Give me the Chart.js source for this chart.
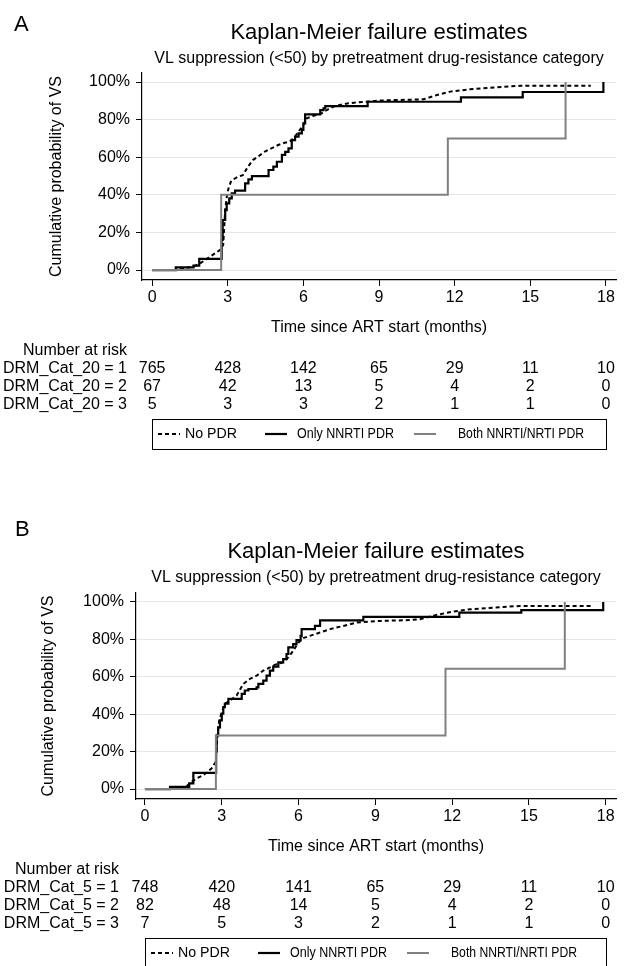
<!DOCTYPE html>
<html>
<head>
<meta charset="utf-8">
<script src="https://cdn.jsdelivr.net/npm/chart.js@4.4.1/dist/chart.umd.min.js"></script>
<style>
  body { margin: 0; background: #fff; }
  canvas { display: block; }
</style>
</head>
<body>
<canvas id="panelA" width="629" height="519"></canvas>
<canvas id="panelB" width="629" height="447"></canvas>
<script>
const FONT = '"Liberation Sans", Arial, sans-serif';

const X_TICKS = [0, 3, 6, 9, 12, 15, 18];
const Y_TICKS = [0, 20, 40, 60, 80, 100];
const SERIES_NAMES = ['No PDR', 'Only NNRTI PDR', 'Both NNRTI/NRTI PDR'];

// panel A, [months, cumulative %]
const A_NO_PDR = [[0, 0], [0.9, 0], [1.0, 0.5], [1.64, 1.8], [1.9, 3.5], [2.3, 7.1], [2.69, 10.6], [2.82, 13.3],
  [2.9, 31.9], [2.98, 40.8], [3.05, 44.3], [3.14, 47.5], [3.4, 49.6], [3.6, 50.5], [3.8, 54.9], [4.0, 58.5],
  [4.2, 60.3], [4.46, 62.9], [4.73, 64.7], [5.0, 66.5], [5.26, 67.7], [5.46, 68.3], [5.66, 70.9], [5.86, 74.5],
  [6.0, 77.1], [6.13, 80.7], [6.4, 82], [6.72, 83.3], [6.98, 85.5], [7.25, 87.2], [7.78, 88.7], [8.44, 89.5],
  [9.1, 90.2], [10.77, 90.8], [11.3, 93.1], [11.83, 94.9], [12.6, 96.1], [13.94, 97.5], [14.6, 98], [17.4, 98]];
const A_NNRTI = [[0, 0], [0.94, 1.4], [1.64, 2.3], [1.87, 5.9], [2.76, 16], [2.8, 26.6], [2.9, 31.9], [2.96, 35.5],
  [3.06, 38.1], [3.16, 40.8], [3.29, 42.2], [3.69, 46.1], [3.82, 48.2], [3.96, 50], [4.62, 53.2], [4.81, 55],
  [4.95, 57.6], [5.15, 61.2], [5.28, 62.9], [5.41, 64.7], [5.54, 69.1], [5.67, 70.9], [5.81, 72.7], [5.94, 74.5],
  [6.0, 78], [6.07, 82.8], [6.67, 85.1], [6.8, 86], [6.87, 87.2], [8.55, 89.5], [12.25, 91.8], [14.7, 94.7], [17.9, 100]];
const A_BOTH = [[0, 0], [2.74, 40], [11.73, 70], [16.4, 100]];
const A_RISK_LABELS = ['DRM_Cat_20 = 1', 'DRM_Cat_20 = 2', 'DRM_Cat_20 = 3'];
const A_RISK_1 = [765, 428, 142, 65, 29, 11, 10];
const A_RISK_2 = [67, 42, 13, 5, 4, 2, 0];
const A_RISK_3 = [5, 3, 3, 2, 1, 1, 0];

// panel B
const B_NO_PDR = [[0, 0], [1.2, 0], [1.6, 1.2], [1.82, 3.9], [2.02, 5.7], [2.28, 7.4], [2.6, 11], [2.76, 14.5],
  [2.83, 27.8], [2.9, 36.7], [3.0, 41], [3.12, 45.6], [3.32, 47.3], [3.58, 50], [3.84, 56.2], [4.1, 58.9],
  [4.36, 60.6], [4.62, 63.3], [4.88, 65], [5.14, 66.8], [5.4, 67.7], [5.6, 70.4], [5.79, 73.9], [6.0, 78.4],
  [6.18, 80.7], [6.44, 81.9], [6.84, 83.7], [7.23, 85.5], [7.75, 87.2], [8.27, 89], [9.2, 89.9], [10.09, 90.2],
  [10.74, 90.8], [11.39, 93.1], [12.04, 94.9], [12.7, 96.1], [14.0, 97.3], [14.65, 97.9], [17.45, 97.9]];
const B_NNRTI = [[0, 0], [0.98, 1.2], [1.73, 3], [1.89, 8.7], [2.78, 20], [2.8, 28.7], [2.86, 33], [2.93, 36.7],
  [3.0, 40.3], [3.06, 43.8], [3.12, 45.6], [3.26, 48.2], [3.78, 50.9], [3.9, 52.7], [4.04, 53.5], [4.36, 54.4],
  [4.43, 56.2], [4.62, 58], [4.75, 60.6], [4.88, 63.3], [5.01, 65.4], [5.21, 67.7], [5.4, 69.5], [5.53, 72.2],
  [5.6, 75.7], [5.79, 77.5], [5.92, 79.6], [6.08, 81.9], [6.12, 85.5], [6.64, 87.2], [6.84, 90.2], [8.53, 92],
  [12.28, 94.3], [14.7, 95.7], [17.9, 100]];
const B_BOTH = [[0, 0], [2.77, 28.6], [11.74, 64.3], [16.4, 100]];
const B_RISK_LABELS = ['DRM_Cat_5 = 1', 'DRM_Cat_5 = 2', 'DRM_Cat_5 = 3'];
const B_RISK_1 = [748, 420, 141, 65, 29, 11, 10];
const B_RISK_2 = [82, 48, 14, 5, 4, 2, 0];
const B_RISK_3 = [7, 5, 3, 2, 1, 1, 0];

const panels = {
  panelA: {
    letter: 'A', letterX: 14, letterY: 25, yAxisWidth: 142, xMin: -0.4, top: 73, bottom: 209,
    yTitleX: 57, riskLabelRight: 127,
    series: [A_NO_PDR, A_NNRTI, A_BOTH],
    riskLabels: A_RISK_LABELS, riskRows: [A_RISK_1, A_RISK_2, A_RISK_3]
  },
  panelB: {
    letter: 'B', letterX: 15, letterY: 11, yAxisWidth: 136, xMin: -0.35, top: 74, bottom: 137,
    yTitleX: 49, riskLabelRight: 119,
    series: [B_NO_PDR, B_NNRTI, B_BOTH],
    riskLabels: B_RISK_LABELS, riskRows: [B_RISK_1, B_RISK_2, B_RISK_3]
  }
};

// line styles, same order as SERIES_NAMES
const styles = [
  { color: '#000', width: 2, dash: [4, 3], stepped: false, order: 3 },
  { color: '#000', width: 2.2, dash: [], stepped: true, order: 2 },
  { color: '#808080', width: 2, dash: [], stepped: true, order: 1 }
];

function toXY(pairs) {
  return pairs.map(p => ({ x: p[0], y: p[1] }));
}

function decorations(p) {
  return {
    id: 'decor',
    afterDraw(chart) {
      const ctx = chart.ctx;
      const a = chart.chartArea;
      const xs = chart.scales.x;
      const cx = (a.left + a.right) / 2;
      ctx.save();
      ctx.fillStyle = '#000';
      ctx.textBaseline = 'middle';

      ctx.font = '22px ' + FONT;
      ctx.textAlign = 'left';
      ctx.fillText(p.letter, p.letterX, p.letterY);
      ctx.textAlign = 'center';
      ctx.fillText('Kaplan-Meier failure estimates', cx, 33);

      ctx.font = '16px ' + FONT;
      ctx.fillText('VL suppression (<50) by pretreatment drug-resistance category', cx, 59);
      ctx.fillText('Time since ART start (months)', cx, 328);

      ctx.save();
      ctx.translate(p.yTitleX, (a.top + a.bottom) / 2);
      ctx.rotate(-Math.PI / 2);
      ctx.fillText('Cumulative probability of VS', 0, 0);
      ctx.restore();

      // number at risk table
      ctx.textAlign = 'right';
      ctx.fillText('Number at risk', p.riskLabelRight, 351);
      p.riskRows.forEach((row, i) => {
        const y = 369 + i * 18;
        ctx.textAlign = 'right';
        ctx.fillText(p.riskLabels[i], p.riskLabelRight, y);
        ctx.textAlign = 'center';
        row.forEach((n, j) => ctx.fillText(String(n), xs.getPixelForValue(X_TICKS[j]), y));
      });

      // legend box
      const l = Math.round(xs.getPixelForValue(0));
      const r = Math.round(xs.getPixelForValue(18));
      ctx.strokeStyle = '#000';
      ctx.lineWidth = 1;
      ctx.setLineDash([]);
      ctx.strokeRect(l + 0.5, 419.5, r - l, 30);

      const sampleOff = [6, 113, 262];
      const textOff = [33, 145, 306];
      const textW = [52, 97, 126];
      ctx.font = '15px ' + FONT;
      ctx.textAlign = 'left';
      SERIES_NAMES.forEach((name, i) => {
        const s = styles[i];
        ctx.strokeStyle = s.color;
        ctx.lineWidth = s.width;
        ctx.setLineDash(s.dash);
        ctx.beginPath();
        ctx.moveTo(l + sampleOff[i], 434);
        ctx.lineTo(l + sampleOff[i] + 22, 434);
        ctx.stroke();
        ctx.fillText(name, l + textOff[i], 434, textW[i]);
      });
      ctx.restore();
    }
  };
}

function makeChart(id) {
  const p = panels[id];
  new Chart(document.getElementById(id), {
    type: 'line',
    data: {
      datasets: SERIES_NAMES.map((name, i) => ({
        label: name,
        data: toXY(p.series[i]),
        borderColor: styles[i].color,
        borderWidth: styles[i].width,
        borderDash: styles[i].dash,
        stepped: styles[i].stepped,
        order: styles[i].order,
        fill: false
      }))
    },
    options: {
      responsive: false,
      animation: false,
      layout: { padding: { top: p.top, right: 13, bottom: p.bottom, left: 0 } },
      elements: { point: { radius: 0 }, line: { tension: 0 } },
      plugins: { legend: { display: false }, tooltip: { enabled: false } },
      scales: {
        x: {
          type: 'linear',
          min: p.xMin,
          max: 18.4,
          afterBuildTicks: s => { s.ticks = X_TICKS.map(v => ({ value: v })); },
          afterFit: s => { s.height = 30; s.paddingLeft = 0; s.paddingRight = 0; },
          grid: { drawOnChartArea: false, tickLength: 6, tickColor: '#000' },
          border: { color: '#000', width: 1.2 },
          ticks: { color: '#000', font: { family: FONT, size: 16 }, padding: 2, maxRotation: 0, autoSkip: false }
        },
        y: {
          min: -5.3,
          max: 104.8,
          afterBuildTicks: s => { s.ticks = Y_TICKS.map(v => ({ value: v })); },
          afterFit: s => { s.width = p.yAxisWidth; s.paddingTop = 0; s.paddingBottom = 0; },
          grid: { color: '#e6e6e6', lineWidth: 1, tickLength: 6, tickColor: '#000' },
          border: { color: '#000', width: 1.2 },
          ticks: { color: '#000', font: { family: FONT, size: 16 }, padding: 6, callback: v => v + '%' }
        }
      }
    },
    plugins: [decorations(p)]
  });
}

makeChart('panelA');
makeChart('panelB');
</script>
</body>
</html>
